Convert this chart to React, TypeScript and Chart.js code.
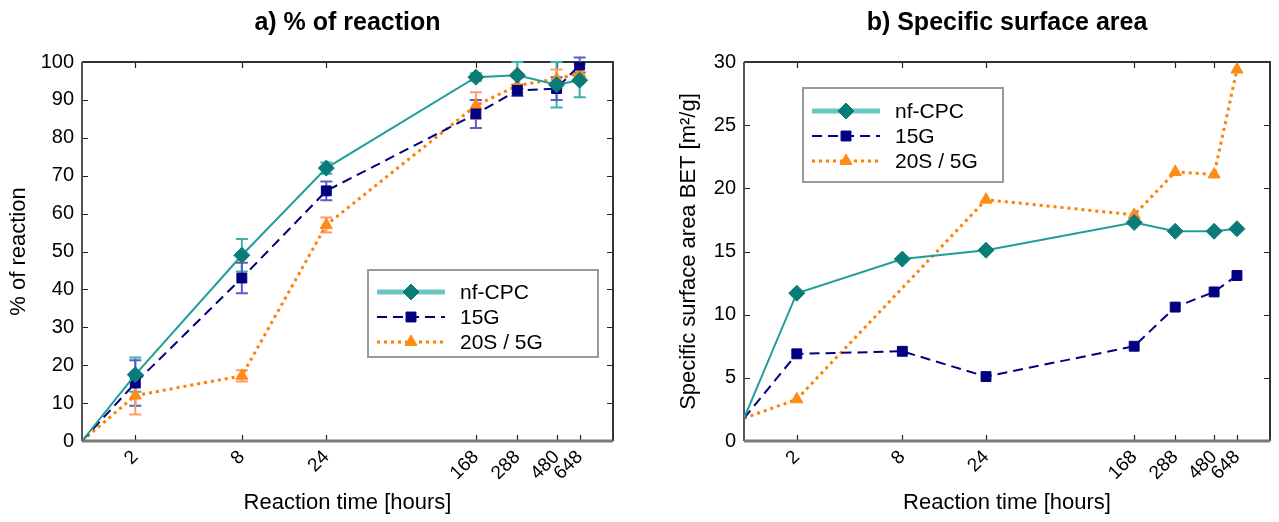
import React, { useEffect, useRef } from "react";
import { Chart, registerables } from "chart.js";
import { drawPoint } from "chart.js/helpers";

Chart.register(...registerables);

// ---------- data ----------
const hours = [0, 2, 8, 24, 168, 288, 480, 648];
const timeTicks = [2, 8, 24, 168, 288, 480, 648];
const seriesNames = ["nf-CPC", "15G", "20S / 5G"];

const nfCpcReaction = [0, 17.5, 49, 72, 96, 96.5, 94, 95.2];
const nfCpcReactionErr = [0, 4.5, 4.3, 1.5, 1, 3.5, 6, 4.5];
const g15Reaction = [0, 15.3, 43, 66, 86.3, 92.5, 93, 99.2];
const g15ReactionErr = [0, 6, 4, 2.5, 3.7, 1.5, 3, 2];
const s20Reaction = [0, 12, 17.2, 57, 88.5, 93.8, 95.5, 97];
const s20ReactionErr = [0, 5, 1.5, 2, 3.5, 2, 2.5, 2.5];

const nfCpcBet = [1.8, 11.7, 14.4, 15.1, 17.3, 16.6, 16.6, 16.8];
const g15Bet = [1.8, 6.9, 7.1, 5.1, 7.5, 10.6, 11.8, 13.1];
const s20Bet = [1.8, 3.3, null, 19.1, 17.9, 21.3, 21.1, 29.4];

const reactionTicks = [0, 10, 20, 30, 40, 50, 60, 70, 80, 90, 100];
const betTicks = [0, 5, 10, 15, 20, 25, 30];

// ---------- styles ----------
const FONT = "'Liberation Sans', Arial, Helvetica, sans-serif";
const lineColors = ["#1f9e9a", "#000080", "#ff8000"];
const markerColors = ["#0a7c78", "#000080", "#ff8c1a"];
const errColors = ["#3ab3ae", "#5c5cc8", "#ff9a6a"];
const legendLineColors = ["#6cc6c2", "#000080", "#ff8000"];
const legendLineWidths = [5, 2, 3];
const pointStyles = ["rectRot", "rect", "triangle"];
const pointRadii = [8, 7, 7];
const dashes: number[][] = [[], [10, 6], [3, 4]];
const lineWidths = [2, 2, 3];

const toX = (h: number) => (h === 0 ? 1 : h);

function makeDatasets(values: (number | null)[][]) {
  return values.map((vals, i) => ({
    label: seriesNames[i],
    data: hours.map((h, k) => ({ x: toX(h), y: vals[k] })),
    borderColor: lineColors[i],
    backgroundColor: markerColors[i],
    pointBackgroundColor: markerColors[i],
    pointBorderColor: markerColors[i],
    pointStyle: pointStyles[i],
    pointRadius: hours.map((h) => (h === 0 ? 0 : pointRadii[i])),
    pointBorderWidth: 1,
    borderWidth: lineWidths[i],
    borderDash: dashes[i],
    spanGaps: true,
    tension: 0,
    fill: false,
  }));
}

const framePlugin = {
  id: "frame",
  beforeDatasetsDraw(chart: any) {
    const { ctx, chartArea: a, scales } = chart;
    ctx.save();
    ctx.setLineDash([]);
    // inward tick marks
    ctx.strokeStyle = "#222";
    ctx.lineWidth = 1.2;
    const tl = 6;
    scales.x.ticks.forEach((t: any) => {
      const px = Math.round(scales.x.getPixelForValue(t.value)) + 0.5;
      ctx.beginPath();
      ctx.moveTo(px, a.bottom);
      ctx.lineTo(px, a.bottom - tl);
      ctx.moveTo(px, a.top);
      ctx.lineTo(px, a.top + tl);
      ctx.stroke();
    });
    scales.y.ticks.forEach((t: any) => {
      const py = Math.round(scales.y.getPixelForValue(t.value)) + 0.5;
      ctx.beginPath();
      ctx.moveTo(a.left, py);
      ctx.lineTo(a.left + tl, py);
      ctx.moveTo(a.right, py);
      ctx.lineTo(a.right - tl, py);
      ctx.stroke();
    });
    // border
    ctx.lineWidth = 2;
    ctx.strokeStyle = "#333";
    ctx.beginPath();
    ctx.moveTo(a.left, a.top);
    ctx.lineTo(a.right, a.top);
    ctx.lineTo(a.right, a.bottom);
    ctx.stroke();
    ctx.strokeStyle = "#555";
    ctx.beginPath();
    ctx.moveTo(a.left, a.bottom);
    ctx.lineTo(a.left, a.top);
    ctx.stroke();
    ctx.strokeStyle = "#7a7a7a";
    ctx.lineWidth = 3;
    ctx.beginPath();
    ctx.moveTo(a.left, a.bottom);
    ctx.lineTo(a.right, a.bottom);
    ctx.stroke();
    ctx.restore();
  },
};

function errorBarPlugin(errs: number[][] | null) {
  return {
    id: "errorBars",
    beforeDatasetsDraw(chart: any) {
      if (!errs) return;
      const { ctx, scales } = chart;
      ctx.save();
      ctx.setLineDash([]);
      chart.data.datasets.forEach((ds: any, i: number) => {
        ctx.strokeStyle = errColors[i];
        ctx.lineWidth = 2;
        ds.data.forEach((p: any, k: number) => {
          const e = errs[i][k];
          if (!e || p.y == null) return;
          const px = scales.x.getPixelForValue(p.x);
          const y1 = scales.y.getPixelForValue(p.y + e);
          const y2 = scales.y.getPixelForValue(p.y - e);
          ctx.beginPath();
          ctx.moveTo(px, y1);
          ctx.lineTo(px, y2);
          ctx.moveTo(px - 6, y1);
          ctx.lineTo(px + 6, y1);
          ctx.moveTo(px - 6, y2);
          ctx.lineTo(px + 6, y2);
          ctx.stroke();
        });
      });
      ctx.restore();
    },
  };
}

function legendPlugin(box: { x: number; y: number; w: number; h: number; row0: number; gap: number }) {
  return {
    id: "boxLegend",
    afterDraw(chart: any) {
      const { ctx } = chart;
      ctx.save();
      ctx.fillStyle = "#fff";
      ctx.fillRect(box.x, box.y, box.w, box.h);
      ctx.strokeStyle = "#9a9a9a";
      ctx.lineWidth = 2;
      ctx.setLineDash([]);
      ctx.strokeRect(box.x, box.y, box.w, box.h);
      chart.data.datasets.forEach((ds: any, i: number) => {
        const y = box.y + box.row0 + i * box.gap;
        const x1 = box.x + 9;
        const x2 = box.x + 77;
        ctx.strokeStyle = legendLineColors[i];
        ctx.lineWidth = legendLineWidths[i];
        ctx.setLineDash(dashes[i]);
        ctx.beginPath();
        ctx.moveTo(x1, y);
        ctx.lineTo(x2, y);
        ctx.stroke();
        ctx.setLineDash([]);
        ctx.fillStyle = markerColors[i];
        ctx.strokeStyle = markerColors[i];
        ctx.lineWidth = 1;
        drawPoint(ctx, { pointStyle: pointStyles[i], radius: pointRadii[i], rotation: 0, borderWidth: 1 } as any, (x1 + x2) / 2, y);
        ctx.fillStyle = "#000";
        ctx.font = `21px ${FONT}`;
        ctx.textBaseline = "middle";
        ctx.textAlign = "left";
        ctx.fillText(ds.label, box.x + 92, y + 1);
      });
      ctx.restore();
    },
  };
}

type PanelProps = {
  left: number;
  width: number;
  title: string;
  yTitle: string;
  yMax: number;
  yTicks: number[];
  values: (number | null)[][];
  errs: number[][] | null;
  padLeft: number;
  padRight: number;
  yWidth: number;
  legend: { x: number; y: number; w: number; h: number; row0: number; gap: number };
};

function Panel(p: PanelProps) {
  const ref = useRef<HTMLCanvasElement | null>(null);
  useEffect(() => {
    if (!ref.current) return;
    const chart = new Chart(ref.current, {
      type: "line",
      data: { datasets: makeDatasets(p.values) as any },
      options: {
        animation: false,
        responsive: false,
        devicePixelRatio: 1,
        layout: { padding: { left: p.padLeft, right: p.padRight, top: 0, bottom: 0 } },
        plugins: {
          legend: { display: false },
          tooltip: { enabled: false },
          title: {
            display: true,
            text: p.title,
            fullSize: false,
            color: "#000",
            font: { family: FONT, size: 25, weight: "bold" },
            padding: { top: 8, bottom: 24 },
          },
        },
        scales: {
          x: {
            type: "logarithmic",
            min: 1,
            max: 1000,
            grid: { display: false, drawTicks: false },
            border: { display: false },
            afterBuildTicks: (scale: any) => {
              scale.ticks = timeTicks.map((v) => ({ value: v }));
            },
            afterFit: (scale: any) => {
              scale.height = 81;
            },
            ticks: {
              autoSkip: false,
              maxRotation: 45,
              minRotation: 45,
              padding: 5,
              color: "#000",
              font: { family: FONT, size: 19 },
              callback: (v: any) => String(v),
            },
            title: {
              display: true,
              text: "Reaction time [hours]",
              color: "#000",
              font: { family: FONT, size: 22 },
              padding: { top: 2, bottom: 6 },
            },
          },
          y: {
            min: 0,
            max: p.yMax,
            grid: { display: false, drawTicks: false },
            border: { display: false },
            afterBuildTicks: (scale: any) => {
              scale.ticks = p.yTicks.map((v) => ({ value: v }));
            },
            afterFit: (scale: any) => {
              scale.width = p.yWidth;
            },
            ticks: {
              padding: 8,
              color: "#000",
              font: { family: FONT, size: 20 },
            },
            title: {
              display: true,
              text: p.yTitle,
              color: "#000",
              font: { family: FONT, size: 22 },
              padding: { top: 6, bottom: 0 },
            },
          },
        },
      } as any,
      plugins: [framePlugin, errorBarPlugin(p.errs), legendPlugin(p.legend)],
    });
    return () => chart.destroy();
  }, []);
  return (
    <div style={{ position: "absolute", left: p.left, top: 0, width: p.width, height: 522 }}>
      <canvas ref={ref} width={p.width} height={522} style={{ width: p.width, height: 522, display: "block" }} />
    </div>
  );
}

export default function App() {
  return (
    <div style={{ position: "fixed", left: 0, top: 0, width: 1279, height: 522, background: "#fff", overflow: "hidden" }}>
      <Panel
        left={0}
        width={640}
        title="a) % of reaction"
        yTitle="% of reaction"
        yMax={100}
        yTicks={reactionTicks}
        values={[nfCpcReaction, g15Reaction, s20Reaction]}
        errs={[nfCpcReactionErr, g15ReactionErr, s20ReactionErr]}
        padLeft={0}
        padRight={27}
        yWidth={82}
        legend={{ x: 368, y: 270, w: 230, h: 87, row0: 22, gap: 25 }}
      />
      <Panel
        left={640}
        width={639}
        title="b) Specific surface area"
        yTitle="Specific surface area BET [m²/g]"
        yMax={30}
        yTicks={betTicks}
        values={[nfCpcBet, g15Bet, s20Bet]}
        errs={null}
        padLeft={30}
        padRight={5}
        yWidth={74}
        legend={{ x: 163, y: 88, w: 200, h: 94, row0: 23, gap: 25 }}
      />
    </div>
  );
}
